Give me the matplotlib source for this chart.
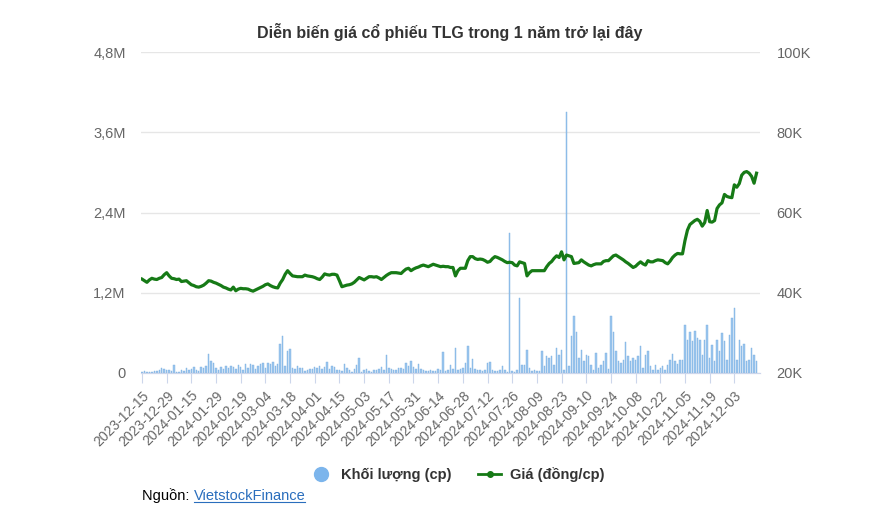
import numpy as np
import matplotlib
matplotlib.use("Agg")
import matplotlib.pyplot as plt
from matplotlib.lines import Line2D

plt.rcParams['font.family'] = ['Liberation Sans', 'DejaVu Sans']

# nhãn ngày trên trục x (mỗi 10 phiên)
nhan_ngay = ['2023-12-15', '2023-12-29', '2024-01-15', '2024-01-29', '2024-02-19',
             '2024-03-04', '2024-03-18', '2024-04-01', '2024-04-15', '2024-05-03',
             '2024-05-17', '2024-05-31', '2024-06-14', '2024-06-28', '2024-07-12',
             '2024-07-26', '2024-08-09', '2024-08-23', '2024-09-10', '2024-09-24',
             '2024-10-08', '2024-10-22', '2024-11-05', '2024-11-19', '2024-12-03']

# giá (nghìn đồng/cp), 250 phiên
gia = [43.4, 43.0, 42.6, 43.2, 43.6, 43.4, 43.3, 43.6, 43.8, 44.5,
       45.0, 44.2, 43.6, 43.5, 43.3, 43.4, 42.8, 42.9, 43.0, 42.5,
       42.0, 41.8, 41.5, 41.4, 41.6, 41.9, 42.4, 43.0, 42.9, 42.6,
       42.4, 42.1, 41.8, 41.4, 41.2, 40.9, 40.7, 41.4, 40.5, 40.9,
       41.1, 41.0, 41.0, 40.9, 40.6, 40.4, 40.7, 41.0, 41.3, 41.6,
       42.0, 42.2, 41.8, 41.5, 41.3, 41.2, 42.4, 43.3, 44.6, 45.5,
       44.8, 44.2, 44.1, 44.0, 44.0, 44.0, 44.4, 44.2, 44.1, 44.0,
       43.8, 43.5, 43.3, 43.9, 44.7, 44.5, 44.4, 44.6, 44.6, 44.4,
       43.0, 41.5, 41.7, 41.9, 42.0, 42.2, 42.6, 43.2, 43.8, 43.5,
       43.2, 43.6, 44.0, 44.0, 43.9, 44.0, 43.7, 43.3, 43.8, 44.3,
       44.7, 45.0, 45.0, 45.0, 44.9, 44.8, 45.4, 45.9, 46.1, 45.5,
       45.9, 46.2, 46.4, 46.7, 46.9, 46.7, 46.5, 46.8, 47.1, 46.9,
       46.7, 46.5, 46.6, 46.5, 46.5, 46.3, 46.3, 44.2, 45.5, 46.1,
       46.1, 46.1, 48.0, 49.0, 49.0, 48.5, 48.3, 48.4, 48.3, 48.0,
       47.6, 47.8, 48.5, 49.0, 48.8, 48.5, 48.2, 47.8, 47.5, 47.6,
       47.5, 46.9, 46.7, 47.7, 47.5, 47.3, 44.2, 45.0, 45.5, 45.5,
       45.5, 45.5, 45.5, 45.5, 46.5, 47.3, 47.8, 48.6, 49.2, 48.8,
       50.2, 48.2, 49.4, 49.2, 49.0, 47.3, 47.4, 47.5, 48.2, 47.7,
       47.3, 46.9, 46.7, 47.0, 47.2, 47.2, 47.2, 47.8, 48.0, 48.0,
       48.6, 49.2, 49.4, 49.0, 48.6, 48.2, 47.7, 47.3, 46.8, 46.3,
       46.6, 47.2, 47.7, 47.2, 46.9, 48.0, 47.7, 47.7, 48.0, 48.2,
       48.1, 48.0, 47.5, 47.2, 47.9, 48.8, 49.4, 49.8, 49.7, 49.7,
       53.0, 55.6, 57.0, 57.5, 58.0, 58.3, 57.8, 56.6, 57.5, 60.5,
       57.7, 57.6, 58.0, 61.0, 61.9, 62.4, 64.5, 64.0, 63.8, 63.7,
       66.9, 66.3, 67.2, 69.3, 70.0, 70.2, 69.8, 69.0, 67.3, 69.8]

# khối lượng (nghìn cp)
khoi_luong = [20, 25, 20, 15, 10, 25, 30, 50, 70, 60,
              45, 40, 35, 125, 20, 15, 45, 30, 75, 40,
              60, 90, 40, 30, 90, 70, 110, 280, 180, 150,
              70, 50, 85, 60, 100, 70, 110, 85, 65, 115,
              95, 50, 135, 80, 135, 125, 55, 110, 130, 155,
              70, 150, 130, 170, 110, 135, 430, 560, 100, 330,
              360, 80, 65, 100, 75, 70, 30, 45, 55, 65,
              85, 70, 110, 65, 90, 160, 60, 110, 90, 50,
              40, 30, 130, 75, 40, 20, 60, 115, 230, 20,
              45, 60, 30, 20, 45, 50, 55, 85, 50, 270,
              70, 60, 50, 40, 75, 80, 60, 150, 100, 180,
              95, 55, 130, 60, 40, 35, 30, 40, 30, 25,
              55, 45, 320, 30, 50, 125, 60, 375, 40, 60,
              70, 150, 410, 75, 210, 60, 45, 40, 30, 45,
              150, 160, 40, 35, 30, 40, 100, 45, 20, 2090,
              25, 20, 40, 1120, 125, 125, 340, 75, 25, 40,
              30, 25, 325, 100, 250, 225, 260, 125, 375, 275,
              350, 50, 3900, 100, 560, 850, 620, 225, 350, 175,
              275, 250, 125, 50, 300, 75, 125, 175, 300, 60,
              850, 620, 325, 175, 150, 200, 460, 250, 175, 225,
              200, 250, 400, 75, 275, 325, 100, 50, 125, 50,
              75, 100, 50, 125, 200, 285, 175, 140, 200, 200,
              725, 500, 610, 475, 625, 525, 500, 275, 500, 725,
              225, 425, 175, 500, 325, 600, 475, 200, 575, 825,
              975, 200, 490, 400, 440, 175, 190, 375, 275, 175]

nhan_trai = ['0', '1,2M', '2,4M', '3,6M', '4,8M']
nhan_phai = ['20K', '40K', '60K', '80K', '100K']

xam = '#666666'
fig = plt.figure(figsize=(8.81, 5.26), dpi=100)
ax = fig.add_axes([141/881, 1-373/526, 619/881, 321/526])
ax2 = ax.twinx()

x = np.arange(len(gia))
ax.bar(x, np.array(khoi_luong)*1000, width=0.6, color='#9cc6ee',
       edgecolor='#7aaee0', linewidth=0.3, zorder=2)
ax2.plot(x, gia, color='#167a16', lw=2.3, solid_joinstyle='round', zorder=3)

ax.set_xlim(-0.4, 250.4)
ax.set_ylim(0, 4.8e6)
ax2.set_ylim(20, 100)
ax.set_yticks(np.arange(0, 4.9e6, 1.2e6))
ax.set_yticklabels(nhan_trai)
ax2.set_yticks(np.arange(20, 101, 20))
ax2.set_yticklabels(nhan_phai)
ax.yaxis.grid(True, color='#e6e6e6', lw=1)
ax.set_axisbelow(True)

ax.set_xticks(np.arange(0, 241, 10))
ax.set_xticklabels(nhan_ngay, rotation=45, ha='right', rotation_mode='anchor')
ax.tick_params(axis='x', length=7, color='#ccd6eb', labelsize=10, labelcolor=xam, pad=4)
ax.tick_params(axis='y', length=0, labelsize=10.5, labelcolor=xam, pad=11)
ax2.tick_params(axis='y', length=0, labelsize=10.5, labelcolor=xam, pad=12)

for a in (ax, ax2):
    for s in ('top', 'left', 'right'):
        a.spines[s].set_visible(False)
    a.spines['bottom'].set_color('#ccd6eb')

fig.text(450/881, 1-32/526, 'Diễn biến giá cổ phiếu TLG trong 1 năm trở lại đây',
         ha='center', va='center', fontsize=11.5, fontweight='bold', color='#333333')

h1 = Line2D([], [], ls='none', marker='o', markersize=10, color='#7cb5ec')
h2 = Line2D([], [], color='#167a16', lw=2, marker='o', markersize=4)
fig.legend([h1, h2], ['Khối lượng (cp)', 'Giá (đồng/cp)'], ncol=2, frameon=False,
           loc='center', bbox_to_anchor=(457/881, 1-475/526),
           prop={'weight': 'bold', 'size': 10.5}, labelcolor='#333333',
           handlelength=1.6, columnspacing=1.8, handletextpad=0.6)

t1 = fig.text(142/881, 1-496/526, 'Nguồn: ', ha='left', va='center', fontsize=10.5, color='black')
fig.canvas.draw()
r = fig.canvas.get_renderer()
bb = t1.get_window_extent(r)
t2 = fig.text(bb.x1/881, 1-496/526, 'VietstockFinance', ha='left', va='center',
              fontsize=10.5, color='#2a6ebd')
bb2 = t2.get_window_extent(r)
fig.add_artist(Line2D([bb2.x0/881, bb2.x1/881], [(bb2.y0+1)/526]*2, color='#2a6ebd', lw=0.8))

fig.savefig('out.png', dpi=100)
